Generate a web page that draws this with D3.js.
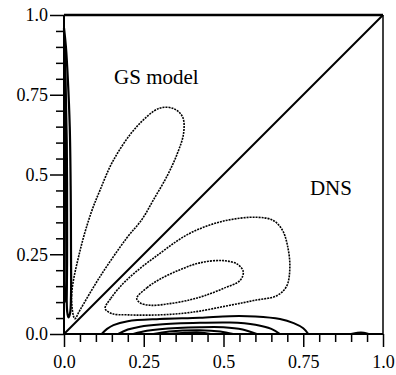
<!DOCTYPE html>
<html><head><meta charset="utf-8"><script src="https://cdn.jsdelivr.net/npm/d3@7"></script></head>
<body style="margin:0">
<script>
// Tick values and labels (shared by both axes).
var majorTicks = [0, 0.25, 0.5, 0.75, 1.0];
var tickLabels = ["0.0", "0.25", "0.5", "0.75", "1.0"];
var minorTicks = [0.05, 0.1, 0.15, 0.2, 0.3, 0.35, 0.4, 0.45, 0.55, 0.6, 0.65, 0.7, 0.8, 0.85, 0.9, 0.95];

// Dotted contours (closed loops).
var gsLoop = [[0.034, 0.048], [0.024, 0.12], [0.05, 0.26], [0.085, 0.38], [0.113, 0.451], [0.155, 0.545],
	[0.228, 0.65], [0.3, 0.708], [0.345, 0.706], [0.372, 0.68], [0.375, 0.63], [0.355, 0.565], [0.322, 0.493],
	[0.28, 0.42], [0.245, 0.36], [0.196, 0.3], [0.113, 0.18], [0.05, 0.075]];
var dnsOuter = [[0.129, 0.08], [0.147, 0.112], [0.196, 0.169], [0.301, 0.253], [0.395, 0.316], [0.5, 0.354],
	[0.604, 0.366], [0.656, 0.356], [0.685, 0.325], [0.7, 0.28], [0.708, 0.211], [0.698, 0.15], [0.667, 0.12],
	[0.6, 0.106], [0.52, 0.09], [0.4, 0.068], [0.3, 0.06], [0.2, 0.06], [0.15, 0.064]];
var dnsInner = [[0.228, 0.112], [0.26, 0.145], [0.301, 0.172], [0.36, 0.2], [0.426, 0.223], [0.5, 0.23],
	[0.545, 0.218], [0.562, 0.195], [0.552, 0.168], [0.5, 0.143], [0.44, 0.12], [0.395, 0.107],
	[0.33, 0.095], [0.27, 0.09], [0.238, 0.098]];

// Solid contours hugging the x axis (open, both ends on the axis).
var bottomC1 = [[0.118, 0], [0.135, 0.016], [0.155, 0.028], [0.2, 0.04], [0.3, 0.047], [0.426, 0.051],
	[0.52, 0.056], [0.6, 0.055], [0.677, 0.047], [0.72, 0.034], [0.75, 0.018], [0.766, 0]];
var bottomC2 = [[0.17, 0], [0.2, 0.014], [0.238, 0.023], [0.3, 0.03], [0.426, 0.035], [0.52, 0.036],
	[0.6, 0.029], [0.65, 0.016], [0.677, 0]];
var bottomC3 = [[0.217, 0], [0.26, 0.01], [0.3, 0.015], [0.426, 0.021], [0.5, 0.021], [0.56, 0.014], [0.604, 0]];
var bottomC4 = [[0.28, 0], [0.33, 0.008], [0.426, 0.012], [0.49, 0.008], [0.53, 0]];
var bottomC5 = [[0.33, 0], [0.38, 0.004], [0.426, 0.005], [0.46, 0]];
var bottomC6 = [[0.9, 0], [0.92, 0.004], [0.94, 0.004], [0.955, 0]];

// Solid contours hugging the y axis.
var leftC1 = [[0, 0.96], [0.006, 0.9], [0.012, 0.8], [0.018, 0.65], [0.021, 0.45], [0.022, 0.25],
	[0.022, 0.12], [0.019, 0.065], [0.014, 0.052], [0.01, 0.07], [0.008, 0.2], [0.006, 0.5], [0.003, 0.8], [0, 0.96]];
var leftC2 = [[0, 0.93], [0.005, 0.8], [0.009, 0.6], [0.01, 0.35], [0.009, 0.15], [0.006, 0.1],
	[0.003, 0.13], [0.002, 0.4], [0, 0.7]];

var diagonal = [[0, 0], [1, 1]];

var serifStack = "'Liberation Serif', Tinos, FreeSerif, 'Noto Serif', 'DejaVu Serif', serif";
var x = d3.scaleLinear().domain([0, 1]).range([64, 383]);
var y = d3.scaleLinear().domain([0, 1]).range([334, 15]);

var svg = d3.select("body").append("svg").attr("width", 396).attr("height", 375)
	.style("font-family", serifStack);

var loopLine = d3.line()
	.x(function(d) { return x(d[0]); })
	.y(function(d) { return y(d[1]); })
	.curve(d3.curveCatmullRomClosed);
var openLine = d3.line()
	.x(function(d) { return x(d[0]); })
	.y(function(d) { return y(d[1]); })
	.curve(d3.curveCatmullRom);
var straightLine = d3.line()
	.x(function(d) { return x(d[0]); })
	.y(function(d) { return y(d[1]); });

// Dotted contours
[gsLoop, dnsOuter, dnsInner].forEach(function(pts) {
	svg.append("path")
		.attr("d", loopLine(pts))
		.attr("fill", "none")
		.attr("stroke", "#000")
		.attr("stroke-width", 1.6)
		.attr("stroke-dasharray", "2,1");
});

// Solid contours
[bottomC1, bottomC2, bottomC3, bottomC4, bottomC5, bottomC6, leftC2].forEach(function(pts) {
	svg.append("path")
		.attr("d", openLine(pts))
		.attr("fill", "none")
		.attr("stroke", "#000")
		.attr("stroke-width", 2);
});
svg.append("path")
	.attr("d", openLine(leftC1))
	.attr("fill", "none")
	.attr("stroke", "#000")
	.attr("stroke-width", 2.2);

// Diagonal
svg.append("path")
	.attr("d", straightLine(diagonal))
	.attr("fill", "none")
	.attr("stroke", "#000")
	.attr("stroke-width", 2);

// Frame: top and right
svg.append("line").attr("x1", x(0)).attr("x2", x(1)).attr("y1", y(1)).attr("y2", y(1))
	.attr("stroke", "#000").attr("stroke-width", 2.5);
svg.append("line").attr("x1", x(1)).attr("x2", x(1)).attr("y1", y(1)).attr("y2", y(0))
	.attr("stroke", "#000").attr("stroke-width", 1.5);

// Axes
function fmt(d) { return tickLabels[majorTicks.indexOf(d)]; }

var gx = svg.append("g").attr("transform", "translate(0," + y(0) + ")");
gx.call(d3.axisBottom(x).tickValues(minorTicks).tickSize(8).tickFormat(""));
var gx2 = svg.append("g").attr("transform", "translate(0," + y(0) + ")");
gx2.call(d3.axisBottom(x).tickValues(majorTicks).tickSize(13).tickPadding(8).tickFormat(fmt));

var gy = svg.append("g").attr("transform", "translate(" + x(0) + ",0)");
gy.call(d3.axisLeft(y).tickValues(minorTicks).tickSize(8).tickFormat(""));
var gy2 = svg.append("g").attr("transform", "translate(" + x(0) + ",0)");
gy2.call(d3.axisLeft(y).tickValues(majorTicks).tickSize(14).tickPadding(2).tickFormat(fmt));

[gx, gx2, gy, gy2].forEach(function(g) {
	g.attr("font-family", null).attr("font-size", null);
	g.select(".domain").remove();
	g.selectAll("line").attr("stroke", "#000").attr("stroke-width", 1.5);
	g.selectAll("text")
		.attr("fill", "#000")
		.style("font-family", serifStack)
		.style("font-size", "18px");
});
gx.append("line").attr("x1", x(0)).attr("x2", x(1)).attr("stroke", "#000").attr("stroke-width", 2);
gy.append("line").attr("y1", y(0)).attr("y2", y(1)).attr("stroke", "#000").attr("stroke-width", 2);

// Labels
svg.append("text")
	.attr("x", x(0.157)).attr("y", y(0.785))
	.style("font-family", serifStack)
	.style("font-size", "21px")
	.text("GS model");
svg.append("text")
	.attr("x", x(0.771)).attr("y", y(0.437))
	.style("font-family", serifStack)
	.style("font-size", "21px")
	.text("DNS");
</script>
</body></html>
